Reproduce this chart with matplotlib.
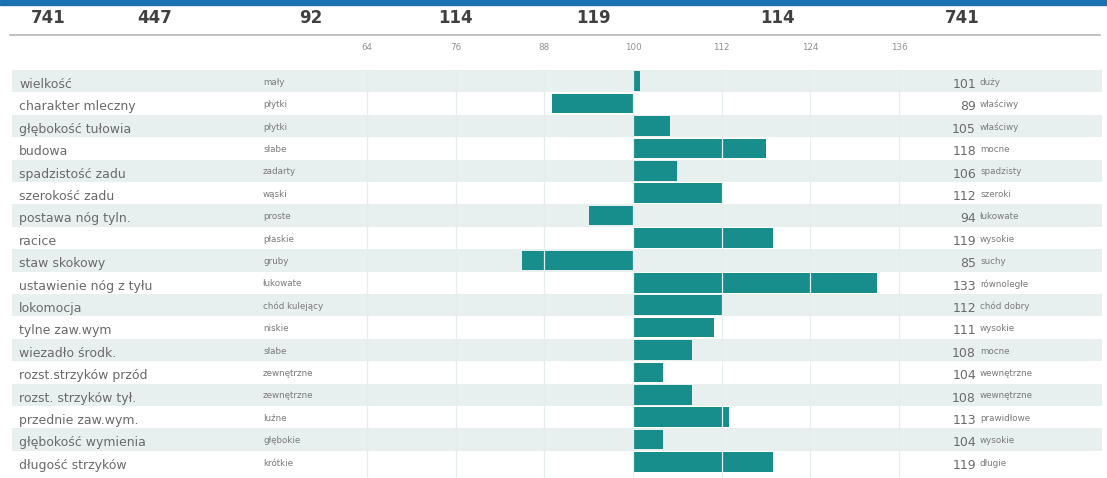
import matplotlib
matplotlib.use('Agg')
import matplotlib.pyplot as plt
import matplotlib.transforms as mtransforms

plt.rcParams['font.family'] = ['DejaVu Sans']

# data
traits = ['wielkość', 'charakter mleczny', 'głębokość tułowia', 'budowa',
          'spadzistość zadu', 'szerokość zadu', 'postawa nóg tyln.', 'racice',
          'staw skokowy', 'ustawienie nóg z tyłu', 'lokomocja', 'tylne zaw.wym',
          'wiezadło środk.', 'rozst.strzyków przód', 'rozst. strzyków tył.',
          'przednie zaw.wym.', 'głębokość wymienia', 'długość strzyków']
low_labels = ['mały', 'płytki', 'płytki', 'słabe', 'zadarty', 'wąski', 'proste',
              'płaskie', 'gruby', 'łukowate', 'chód kulejący', 'niskie', 'słabe',
              'zewnętrzne', 'zewnętrzne', 'luźne', 'głębokie', 'krótkie']
high_labels = ['duży', 'właściwy', 'właściwy', 'mocne', 'spadzisty', 'szeroki',
               'łukowate', 'wysokie', 'suchy', 'równoległe', 'chód dobry', 'wysokie',
               'mocne', 'wewnętrzne', 'wewnętrzne', 'prawidłowe', 'wysokie', 'długie']
values = [101, 89, 105, 118, 106, 112, 94, 119, 85, 133, 112, 111, 108, 104, 108,
          113, 104, 119]
base = 100
ticks = [64, 76, 88, 100, 112, 124, 136]
header_values = [741, 447, 92, 114, 119, 114, 741]
header_x = [48, 155, 311, 455, 593, 778, 962]

W, H = 1107, 478
fig = plt.figure(figsize=(W / 100, H / 100), dpi=100)

def fx(px):
    return px / W

def fy(py):
    return 1 - py / H

# blue top strip and header rule
fig.patches.append(plt.Rectangle((0, fy(5)), 1, 5 / H, transform=fig.transFigure,
                                 color='#1a73b0', zorder=0))
fig.add_artist(plt.Line2D([fx(10), fx(1100)], [fy(35), fy(35)],
                          color='#b5b5b5', lw=1.2))
for v, x in zip(header_values, header_x):
    fig.text(fx(x), fy(18), str(v), ha='center', va='center', fontsize=12,
             color='#404040', fontweight='bold')

row_h = 22.4
n = len(traits)
ax_top = 70
ax = fig.add_axes([fx(12), 0, fx(1102) - fx(12), fy(ax_top)])
ax.set_xlim(base - (633 - 12) / 7.39, base + (1102 - 633) / 7.39)
ax.set_ylim(-0.5 + (H - ax_top) / row_h, -0.5)
ax.axis('off')

for i in range(n):
    if i % 2 == 0:
        ax.axhspan(i - 0.5, i + 0.5, color='#e8f0ef', lw=0, zorder=0)

for t in ticks:
    ax.axvline(t, color='#e6eded', lw=0.9, zorder=3)

ax.barh(range(n), [v - base for v in values], left=base, height=0.87,
        color='#178d8c', zorder=2)

# tick labels above the grid
for t in ticks:
    x_fig = fig.transFigure.inverted().transform(ax.transData.transform((t, 0)))[0]
    fig.text(x_fig, fy(48), str(t), ha='center', va='center', fontsize=6.3,
             color='#909090')

trans = mtransforms.blended_transform_factory(fig.transFigure, ax.transData)
for i in range(n):
    y = i + 0.15
    ax.text(fx(19), y, traits[i], transform=trans, ha='left', va='center',
            fontsize=9, color='#6a6a6a')
    ax.text(fx(263), y - 0.1, low_labels[i], transform=trans, ha='left',
            va='center', fontsize=6.3, color='#7a7a7a')
    ax.text(fx(976), y, str(values[i]), transform=trans, ha='right', va='center',
            fontsize=9, color='#6a6a6a')
    ax.text(fx(980), y - 0.1, high_labels[i], transform=trans, ha='left',
            va='center', fontsize=6.3, color='#7a7a7a')

fig.savefig('out.png', dpi=100)
